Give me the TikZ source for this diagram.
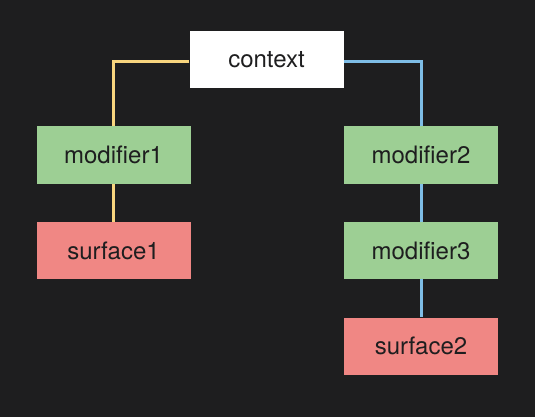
\documentclass[tikz,border=0pt]{standalone}
\usepackage{fontspec}
\setmainfont{TeX Gyre Heros}
\usetikzlibrary{positioning}
\definecolor{bgdark}{HTML}{1E1E1F}
\definecolor{boxgreen}{HTML}{9DCF94}
\definecolor{boxred}{HTML}{F08784}
\definecolor{linkyellow}{HTML}{F8D57E}
\definecolor{linkblue}{HTML}{7EBDE6}
\tikzset{
  box/.style={minimum width=154pt, minimum height=57pt, inner sep=0pt,
    text=bgdark, font=\fontsize{24}{29}\selectfont},
  modbox/.style={box, fill=boxgreen},
  surfbox/.style={box, fill=boxred},
  ctxbox/.style={box, fill=white},
  link/.style={line width=3pt}
}
\begin{document}
\begin{tikzpicture}[x=1pt, y=-1pt]
\fill[bgdark] (0,0) rectangle (535,417);
\useasboundingbox (0,0) rectangle (535,417);

%context
\node[ctxbox] (context) at (266.5,59.5) {context};
%left branch
\node[modbox] (modifier1) at (113.5,155) {modifier1};
\node[surfbox] (surface1) at (113.5,250.5) {surface1};
%right branch
\node[modbox] (modifier2) at (421,155) {modifier2};
\node[modbox] (modifier3) at (421,250.5) {modifier3};
\node[surfbox] (surface2) at (421,346) {surface2};

%links
\draw[link, linkyellow] ([yshift=-2.5pt]context.west) -| (modifier1.north);
\draw[link, linkyellow] (modifier1) -- (surface1);
\draw[link, linkblue] ([yshift=-2.5pt]context.east) -| (modifier2.north);
\draw[link, linkblue] (modifier2) -- (modifier3);
\draw[link, linkblue] (modifier3) -- (surface2);
\end{tikzpicture}
\end{document}
